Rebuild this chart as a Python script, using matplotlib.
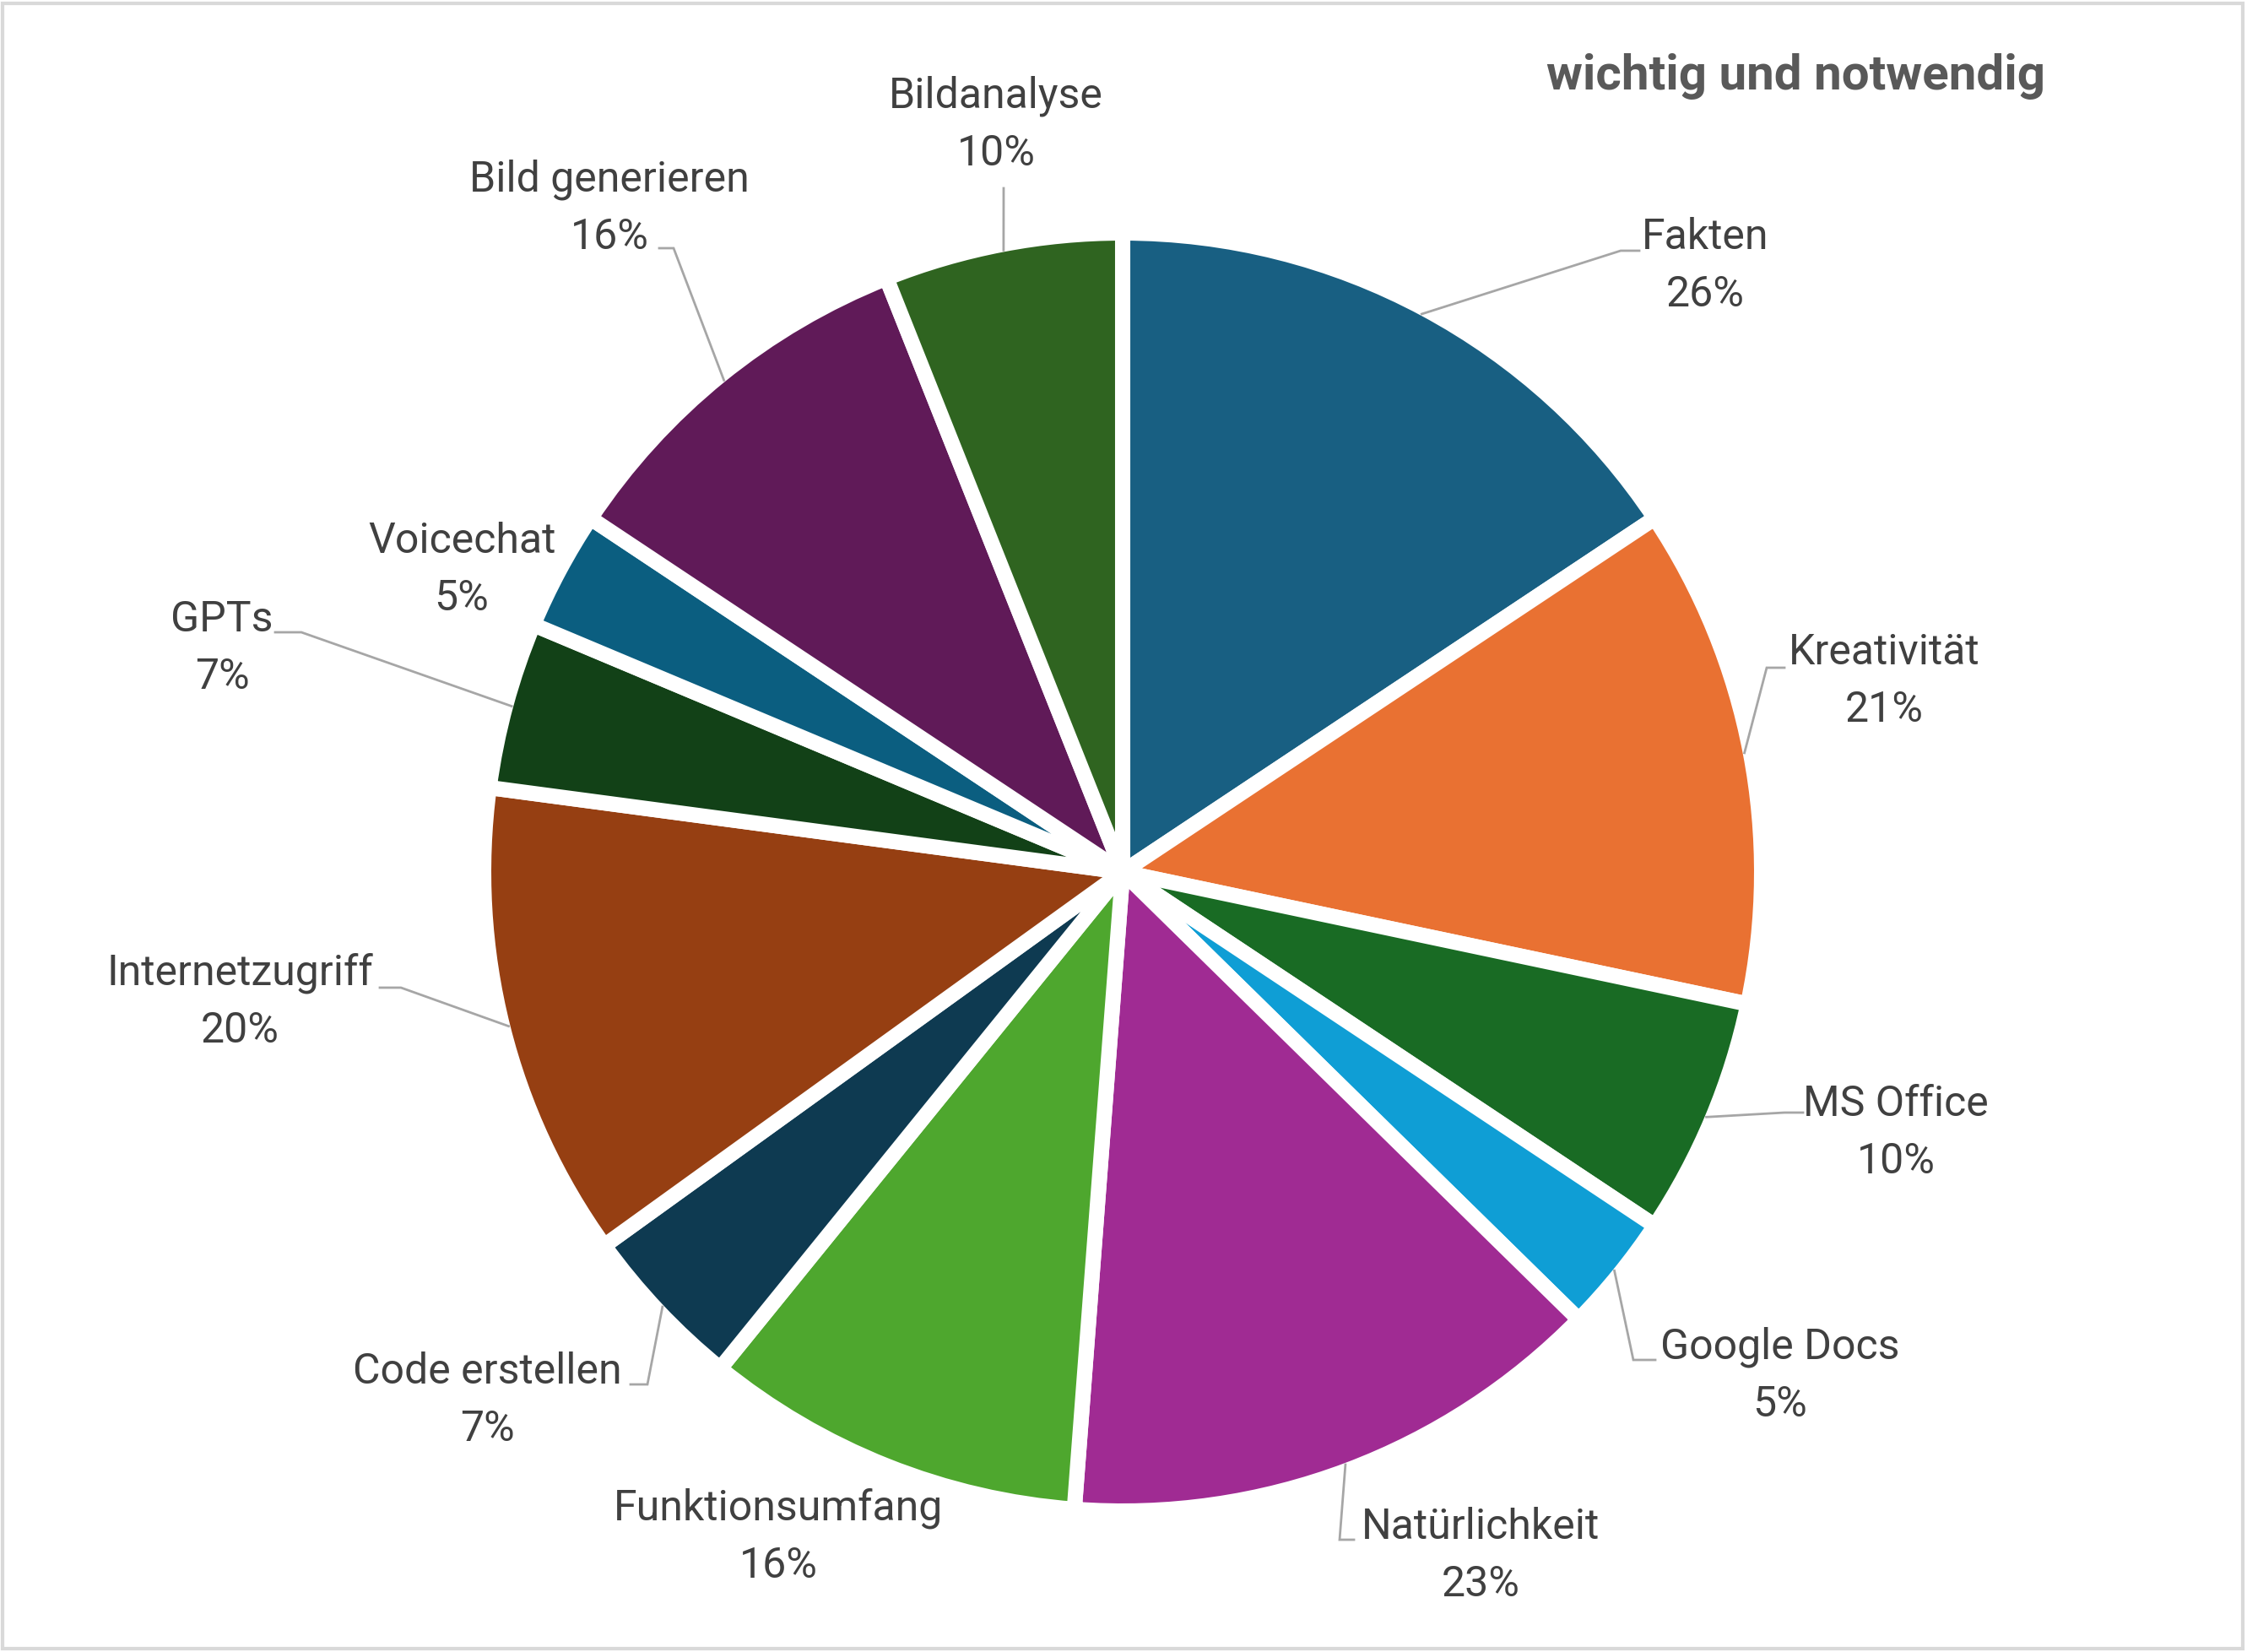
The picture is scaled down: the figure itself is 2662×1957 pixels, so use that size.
import numpy as np
import matplotlib.pyplot as plt
from matplotlib.patches import Rectangle

# Daten
kategorien = ["Fakten", "Kreativität", "MS Office", "Google Docs", "Natürlichkeit",
              "Funktionsumfang", "Code erstellen", "Internetzugriff", "GPTs",
              "Voicechat", "Bild generieren", "Bildanalyse"]
werte = [26, 21, 10, 5, 23, 16, 7, 20, 7, 5, 16, 10]
farben = ["#185F82", "#E97132", "#196B24", "#0F9ED5", "#A02B93", "#4EA72E",
          "#0E3A51", "#963F12", "#124117", "#0B5E80", "#601A58", "#2F6420"]

# Layout in Bildpixeln (y nach unten)
W, H = 2662, 1957
mitte = (1330, 1033)
radius = 757
label_pos = [(2020, 315), (2232, 807), (2246, 1342), (2109, 1630), (1754, 1843),
             (922, 1821), (577, 1659), (284, 1187), (263, 768), (547, 675),
             (722, 247), (1180, 148)]
# Knickpunkt und Ende der Fuehrungslinie (None = keine Linie)
fuehrung = [((1920, 297), (1942, 297)), ((2093, 791), (2114, 791)),
            ((2114, 1318), (2136, 1318)), ((1935, 1611), (1961, 1611)),
            ((1587, 1824), (1604, 1824)), None,
            ((767, 1640), (747, 1640)), ((475, 1170), (450, 1170)),
            ((357, 749), (326, 749)), None,
            ((798, 294), (781, 294)), ((1189, 223), (1189, 223))]

fig = plt.figure(figsize=(W / 100, H / 100), dpi=100)
ax = fig.add_axes([0, 0, 1, 1])

wedges, _ = ax.pie(werte, colors=farben, startangle=90, counterclock=False,
                   center=(mitte[0], H - mitte[1]), radius=radius,
                   wedgeprops=dict(edgecolor="white", linewidth=13,
                                   joinstyle="round"))
ax.set_xlim(0, W)
ax.set_ylim(0, H)
ax.set_aspect("equal")
ax.axis("off")

for w, name, wert, pos, f in zip(wedges, kategorien, werte, label_pos, fuehrung):
    ax.text(pos[0], H - pos[1], f"{name}\n{wert}%", ha="center", va="center",
            fontsize=36, family=["Roboto", "DejaVu Sans"], color="#404040",
            linespacing=1.52)
    if f is None:
        continue
    theta = np.deg2rad((w.theta1 + w.theta2) / 2)
    ax0 = mitte[0] + (radius - 7) * np.cos(theta)
    ay0 = (H - mitte[1]) + (radius - 7) * np.sin(theta)
    (kx, ky), (ex, ey) = f
    ax.plot([ax0, kx, ex], [ay0, H - ky, H - ey], color="#A6A6A6", lw=2,
            solid_joinstyle="miter")

fig.text(2128 / W, 1 - 90 / H, "wichtig und notwendig", ha="center", va="center",
         fontsize=42, fontweight="bold", color="#595959",
         family=["Roboto", "DejaVu Sans"])

# Rahmen
fig.patches.append(Rectangle((0.001, 0.002), 0.997, 0.996, transform=fig.transFigure,
                             fill=False, edgecolor="#D9D9D9", lw=3))

fig.savefig("out.png", dpi=100)
